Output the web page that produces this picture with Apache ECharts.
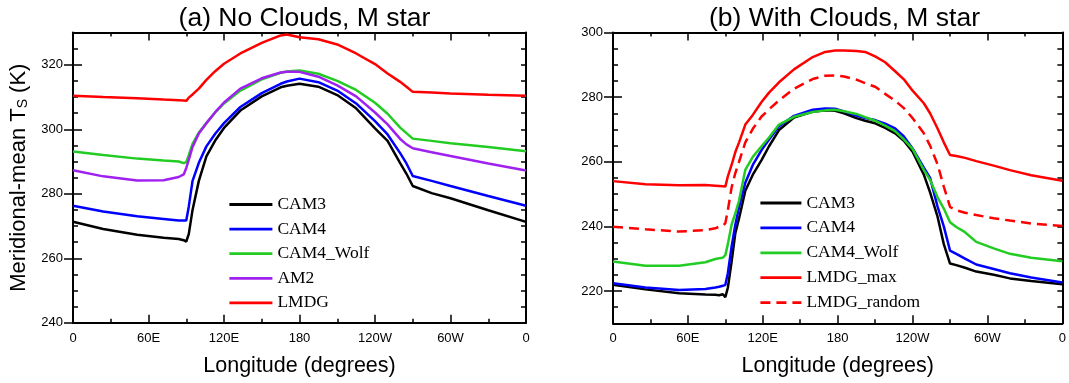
<!DOCTYPE html>
<html><head><meta charset="utf-8">
<script src="https://cdn.jsdelivr.net/npm/echarts@6/dist/echarts.min.js"></script>
<style>html,body{margin:0;padding:0;background:#fff}#c{width:1069px;height:383px}</style>
</head><body><div id="c"></div>
<script>
// ---------- Panel (a): No Clouds ----------
const lonA = [0, 24, 51, 72, 84, 88, 90, 92, 95, 100, 106, 113, 120, 133, 150, 165, 170, 180, 195, 210, 225, 240, 250, 260, 265, 270, 285, 300, 330, 360];
const a_CAM3 = [271.3, 269.1, 267.3, 266.4, 266.0, 265.6, 265.2, 267.5, 275.0, 284.0, 291.6, 296.5, 300.4, 305.8, 310.2, 313.0, 313.5, 314.1, 313.2, 310.6, 306.5, 300.3, 296.4, 289.5, 286.2, 282.4, 280.2, 278.6, 274.9, 271.3];
const a_CAM4 = [276.3, 274.5, 273.0, 272.2, 271.7, 271.7, 271.7, 276.0, 284.0, 289.6, 294.7, 298.6, 301.9, 306.9, 311.2, 314.1, 314.8, 315.7, 314.6, 312.0, 308.0, 302.5, 298.4, 292.6, 289.4, 285.5, 284.0, 282.4, 279.3, 276.3];
const a_Wolf = [293.1, 292.0, 290.9, 290.3, 290.0, 289.5, 289.8, 292.0, 295.5, 299.0, 301.9, 305.2, 308.0, 312.0, 315.5, 317.5, 317.9, 318.2, 317.2, 315.0, 312.2, 308.2, 304.8, 300.5, 298.8, 297.1, 296.4, 295.7, 294.5, 293.2];
const a_AM2 = [287.3, 285.4, 284.1, 284.2, 285.2, 286.0, 288.0, 290.5, 294.5, 298.7, 301.9, 305.3, 308.3, 312.6, 315.8, 317.6, 317.8, 317.8, 316.3, 313.6, 310.2, 305.2, 301.5, 297.0, 295.3, 294.1, 292.9, 291.7, 289.4, 287.2];
const a_LMDG = [310.4, 310.0, 309.6, 309.2, 309.0, 308.9, 308.8, 309.8, 310.8, 312.6, 315.3, 318.0, 320.3, 323.5, 326.8, 329.1, 329.4, 328.5, 327.9, 326.3, 323.5, 320.2, 317.3, 314.7, 313.2, 311.6, 311.4, 311.1, 310.7, 310.4];

// ---------- Panel (b): With Clouds ----------
const lonB = [0, 26, 53, 74, 82, 85, 88, 90, 92, 95, 98, 101, 106, 112, 119, 125, 133, 145, 160, 170, 178, 185, 195, 202, 210, 218, 226, 233, 240, 249, 254, 260, 265, 270, 275, 282, 291, 305, 318, 335, 360];
const b_CAM3 = [221.9, 220.5, 219.3, 218.9, 218.8, 218.7, 219.0, 218.1, 221.0, 229.0, 237.9, 242.5, 251.0, 256.0, 260.5, 264.8, 269.8, 273.7, 275.5, 275.9, 275.8, 275.0, 273.5, 272.7, 271.9, 270.5, 268.8, 266.5, 263.1, 256.0, 250.5, 243.0, 234.5, 228.5, 228.0, 227.2, 226.0, 225.0, 223.9, 223.1, 222.1];
const b_CAM4 = [222.4, 221.1, 220.3, 220.6, 221.1, 221.3, 221.6, 221.9, 225.5, 233.7, 240.5, 246.0, 253.5, 259.0, 263.6, 266.9, 271.0, 274.2, 276.1, 276.5, 276.4, 275.6, 274.3, 273.5, 272.9, 271.8, 270.3, 267.8, 264.1, 258.2, 255.0, 246.1, 240.0, 232.5, 231.5, 230.0, 228.2, 226.8, 225.5, 224.2, 222.6];
const b_Wolf = [229.1, 227.8, 227.8, 228.9, 229.9, 230.1, 230.3, 231.1, 234.5, 240.5, 244.0, 248.0, 257.5, 261.5, 264.8, 267.5, 271.5, 273.9, 275.4, 275.9, 276.1, 275.6, 274.8, 273.8, 272.7, 271.2, 269.5, 266.9, 264.0, 257.5, 254.4, 249.0, 245.5, 241.3, 239.8, 238.2, 235.2, 233.2, 231.5, 230.3, 229.2];
const b_LMDGmax = [254.0, 253.0, 252.7, 252.8, 252.6, 252.5, 252.4, 252.3, 255.5, 259.0, 263.0, 266.0, 271.5, 274.5, 278.5, 281.4, 284.6, 288.6, 292.4, 294.0, 294.4, 294.4, 294.3, 294.0, 292.6, 290.8, 288.0, 285.5, 282.0, 278.1, 275.0, 270.3, 266.0, 262.1, 261.8, 261.2, 260.2, 258.8, 257.4, 255.8, 254.1];
const b_LMDGrand = [239.9, 239.1, 238.4, 238.8, 239.4, 239.9, 240.2, 241.0, 245.0, 252.0, 256.5, 260.0, 266.0, 270.2, 274.0, 276.2, 279.0, 282.6, 285.6, 286.6, 286.7, 286.4, 285.4, 284.3, 283.2, 281.0, 278.9, 276.6, 273.5, 268.8, 265.0, 259.2, 252.3, 246.0, 245.0, 244.2, 243.5, 242.5, 241.8, 240.9, 240.1];

// ---------- ticks / labels ----------
const xTickLabels = {0: '0', 60: '60E', 120: '120E', 180: '180', 240: '120W', 300: '60W', 360: '0'};
const yLabelsA = [240, 260, 280, 300, 320];
const yLabelsB = [220, 240, 260, 280, 300];
const titles = ['(a) No Clouds, M star', '(b) With Clouds, M star'];
const legendA = ['CAM3', 'CAM4', 'CAM4_Wolf', 'AM2', 'LMDG'];
const legendB = ['CAM3', 'CAM4', 'CAM4_Wolf', 'LMDG_max', 'LMDG_random'];

const SANS = 'Liberation Sans, Arial, Helvetica, sans-serif';
const SERIF = 'Liberation Serif, Times New Roman, serif';
const BLACK = '#000';

function pairs(lon, vals) { return lon.map((l, i) => [l, vals[i]]); }

const grids = [
  {left: 73, top: 32.5, width: 453, height: 290.3},
  {left: 613, top: 32.5, width: 453, height: 290.8}
];

function xAxes(g) {
  const base = {
    gridIndex: g, type: 'value', min: 0, max: 360, interval: 60,
    axisLine: {show: true, onZero: false, lineStyle: {color: BLACK, width: 2}},
    axisTick: {show: true, inside: true, length: 8, lineStyle: {color: BLACK, width: 1.5}},
    minorTick: {show: true, splitNumber: 2, length: 4, lineStyle: {color: BLACK, width: 1.5}},
    splitLine: {show: false}, minorSplitLine: {show: false}
  };
  return [
    Object.assign({}, base, {
      position: 'bottom',
      axisLabel: {show: true, margin: 9, fontSize: 13, color: BLACK, fontFamily: SANS,
        formatter: v => (xTickLabels[v] !== undefined ? xTickLabels[v] : '')},
      name: 'Longitude (degrees)', nameLocation: 'middle', nameGap: 32,
      nameTextStyle: {fontSize: 21.5, color: BLACK, fontFamily: SANS}
    }),
    Object.assign({}, base, {position: 'top', axisLabel: {show: false}})
  ];
}

function yAxes(g, min, max, labels, withName) {
  const common = {gridIndex: g, type: 'value', min: min, max: max, interval: 5,
    splitLine: {show: false}};
  const minorL = Object.assign({}, common, {
    position: 'left',
    axisLine: {show: true, onZero: false, lineStyle: {color: BLACK, width: 2}},
    axisTick: {show: true, inside: true, length: 5, lineStyle: {color: BLACK, width: 1.5}},
    axisLabel: {show: true, customValues: labels, margin: 10, fontSize: 13, color: BLACK, fontFamily: SANS}
  });
  if (withName) {
    Object.assign(minorL, {
      name: 'Meridional-mean T{sub|S} (K)', nameLocation: 'middle', nameGap: 43,
      nameTextStyle: {fontSize: 22, color: BLACK, fontFamily: SANS,
        rich: {sub: {fontSize: 14, color: BLACK, fontFamily: SANS, verticalAlign: 'bottom', padding: [9, 0, 0, 0]}}}
    });
  }
  const majorL = Object.assign({}, common, {
    position: 'left', axisLine: {show: false},
    axisTick: {show: true, inside: true, length: 9, customValues: labels, lineStyle: {color: BLACK, width: 1.5}},
    axisLabel: {show: false}
  });
  const minorR = Object.assign({}, common, {
    position: 'right',
    axisLine: {show: true, onZero: false, lineStyle: {color: BLACK, width: 2}},
    axisTick: {show: true, inside: true, length: 5, lineStyle: {color: BLACK, width: 1.5}},
    axisLabel: {show: false}
  });
  const majorR = Object.assign({}, common, {
    position: 'right', axisLine: {show: false},
    axisTick: {show: true, inside: true, length: 9, customValues: labels, lineStyle: {color: BLACK, width: 1.5}},
    axisLabel: {show: false}
  });
  return [minorL, majorL, minorR, majorR];
}

function line(name, xi, yi, lon, vals, color, dashed) {
  return {
    type: 'line', name: name, xAxisIndex: xi, yAxisIndex: yi,
    data: pairs(lon, vals), symbol: 'none', showSymbol: false,
    lineStyle: {color: color, width: 2.5, type: dashed ? [10, 6] : 'solid'},
    itemStyle: {color: color}, emphasis: {disabled: true}
  };
}

const legendCommon = {
  orient: 'vertical', itemHeight: 17, padding: 0, selectedMode: false,
  itemStyle: {opacity: 0, borderWidth: 0},
  lineStyle: {width: 2.8},
  textStyle: {fontFamily: SERIF, fontSize: 17.5, color: BLACK, lineHeight: 17}
};

const option = {
  animation: false,
  backgroundColor: '#fff',
  title: [
    {text: titles[0], left: 299.5, top: 0, textAlign: 'center',
      textStyle: {fontSize: 26.5, fontWeight: 'normal', color: BLACK, fontFamily: SANS}},
    {text: titles[1], left: 839.5, top: 0, textAlign: 'center',
      textStyle: {fontSize: 26.5, fontWeight: 'normal', color: BLACK, fontFamily: SANS}}
  ],
  grid: grids,
  xAxis: [...xAxes(0), ...xAxes(1)],
  yAxis: [...yAxes(0, 240, 330, yLabelsA, true), ...yAxes(1, 210, 300, yLabelsB, false)],
  legend: [
    Object.assign({}, legendCommon, {data: legendA, left: 228, top: 195.5, itemWidth: 43, itemGap: 6.6}),
    Object.assign({}, legendCommon, {data: legendB, left: 759, top: 194, itemWidth: 41, itemGap: 6.9})
  ],
  series: [
    line('CAM3', 0, 0, lonA, a_CAM3, '#000000'),
    line('CAM4', 0, 0, lonA, a_CAM4, '#0000ff'),
    line('CAM4_Wolf', 0, 0, lonA, a_Wolf, '#22cc22'),
    line('AM2', 0, 0, lonA, a_AM2, '#a020f0'),
    line('LMDG', 0, 0, lonA, a_LMDG, '#ff0000'),
    line('CAM3', 2, 4, lonB, b_CAM3, '#000000'),
    line('CAM4', 2, 4, lonB, b_CAM4, '#0000ff'),
    line('CAM4_Wolf', 2, 4, lonB, b_Wolf, '#22cc22'),
    line('LMDG_max', 2, 4, lonB, b_LMDGmax, '#ff0000'),
    line('LMDG_random', 2, 4, lonB, b_LMDGrand, '#ff0000', true)
  ]
};

const chart = echarts.init(document.getElementById('c'), null, {renderer: 'canvas'});
chart.setOption(option);
</script>
</body></html>
